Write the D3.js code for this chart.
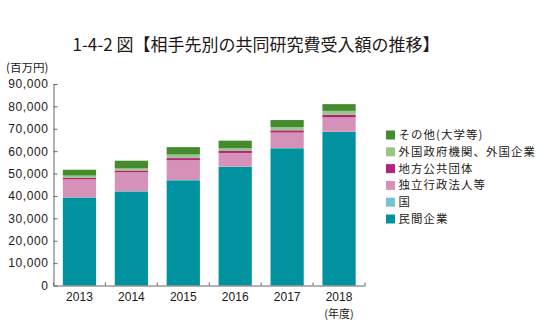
<!DOCTYPE html>
<html><head><meta charset="utf-8">
<script src="https://cdn.jsdelivr.net/npm/d3@7"></script>
<style>
body{margin:0;background:#fff;}
text{fill:#231815;}
</style></head>
<body>
<svg id="c" width="548" height="325"></svg>
<script>
const title = "1-4-2 図【相手先別の共同研究費受入額の推移】";
const unitLabel = "(百万円)";
const yearUnit = "(年度)";
const years = ["2013","2014","2015","2016","2017","2018"];
const seriesNames = ["民間企業","国","独立行政法人等","地方公共団体","外国政府機関、外国企業","その他(大学等)"];
const minkan   = [39300, 42000, 47000, 53000, 61300, 68600];
const kuni     = [100, 100, 100, 100, 100, 100];
const dokuritsu= [8000, 8500, 8900, 6100, 6900, 6400];
const chiho    = [700, 750, 900, 900, 1000, 1100];
const gaikoku  = [1000, 1000, 1600, 1200, 1500, 1800];
const sonota   = [2600, 3400, 3300, 3400, 3100, 3000];
const yTicks = [0,10000,20000,30000,40000,50000,60000,70000,80000,90000];
const colors = ["#00939f","#72c4cd","#d591b7","#b3237c","#9cc38c","#438b2d"];

const seriesValues = [minkan, kuni, dokuritsu, chiho, gaikoku, sonota];
const table = years.map((y,i)=>{
  const o = {year:y};
  seriesNames.forEach((n,k)=>{ o[n] = seriesValues[k][i]; });
  return o;
});

const svg = d3.select("#c");
const x = d3.scaleBand().domain(years).range([53.5, 365]).paddingInner(0.36).paddingOuter(0.18);
const y = d3.scaleLinear().domain([0, 90000]).range([285.5, 84]);

const stack = d3.stack().keys(seriesNames)(table);

svg.append("text").attr("x", 256).attr("y", 51).attr("text-anchor","middle")
  .style("font-family","'Noto Sans CJK JP', sans-serif").style("font-size","17px")
  .attr("fill","#231815").text(title);

svg.append("text").attr("x", 6).attr("y", 72)
  .style("font-family","'Noto Sans CJK JP', sans-serif").style("font-size","11.5px")
  .text(unitLabel);

// bars
svg.append("g").selectAll("g").data(stack).join("g")
  .attr("fill",(d,i)=>colors[i])
  .selectAll("rect").data(d=>d).join("rect")
  .attr("x", d=>x(d.data.year))
  .attr("width", x.bandwidth())
  .attr("y", d=>y(d[1]))
  .attr("height", d=>Math.max(0, y(d[0]) - y(d[1])));

// y axis
const yAxis = d3.axisLeft(y).tickValues(yTicks).tickSizeInner(-4).tickSizeOuter(0).tickPadding(5)
  .tickFormat(d3.format(","));
const ya = svg.append("g").attr("transform","translate(53.5,0)").call(yAxis);
ya.select(".domain").attr("stroke","#666");
ya.selectAll(".tick line").attr("stroke","#666");
ya.selectAll(".tick text").style("font-family","'Liberation Sans', Arial, sans-serif")
  .style("font-size","12px").style("letter-spacing","0.6px").attr("fill","#231815");

// x axis
const xAxis = d3.axisBottom(x).tickSize(0).tickPadding(7);
const xa = svg.append("g").attr("transform","translate(0,285.5)").call(xAxis);
xa.select(".domain").attr("stroke","#666");
xa.selectAll(".tick text").style("font-family","'Liberation Sans', Arial, sans-serif")
  .style("font-size","12px").attr("fill","#231815");
const gap = (x.step() - x.bandwidth())/2;
const bounds = years.map(d=>x(d) - gap).concat([x(years[years.length-1]) + x.bandwidth() + gap]);
xa.selectAll("line.bt").data(bounds).join("line").attr("class","bt")
  .attr("x1",d=>d).attr("x2",d=>d).attr("y1",0).attr("y2",-3).attr("stroke","#666");

svg.append("text").attr("x", x(years[years.length-1]) + x.bandwidth()/2).attr("y", 317.5)
  .attr("text-anchor","middle")
  .style("font-family","'Noto Sans CJK JP', sans-serif").style("font-size","11px")
  .text(yearUnit);

// legend
const legendOrder = seriesNames.map((n,i)=>({n, c:colors[i]})).reverse();
const lg = svg.append("g").selectAll("g").data(legendOrder).join("g")
  .attr("transform",(d,i)=>`translate(386,${135 + i*16.8})`);
lg.append("rect").attr("x",0).attr("y",-4.5).attr("width",9).attr("height",9).attr("fill",d=>d.c);
lg.append("text").attr("x",12.5).attr("y",4)
  .style("font-family","'Noto Sans CJK JP', sans-serif").style("font-size","11.4px")
  .style("letter-spacing","1.1px")
  .text(d=>d.n);
</script>
</body></html>
